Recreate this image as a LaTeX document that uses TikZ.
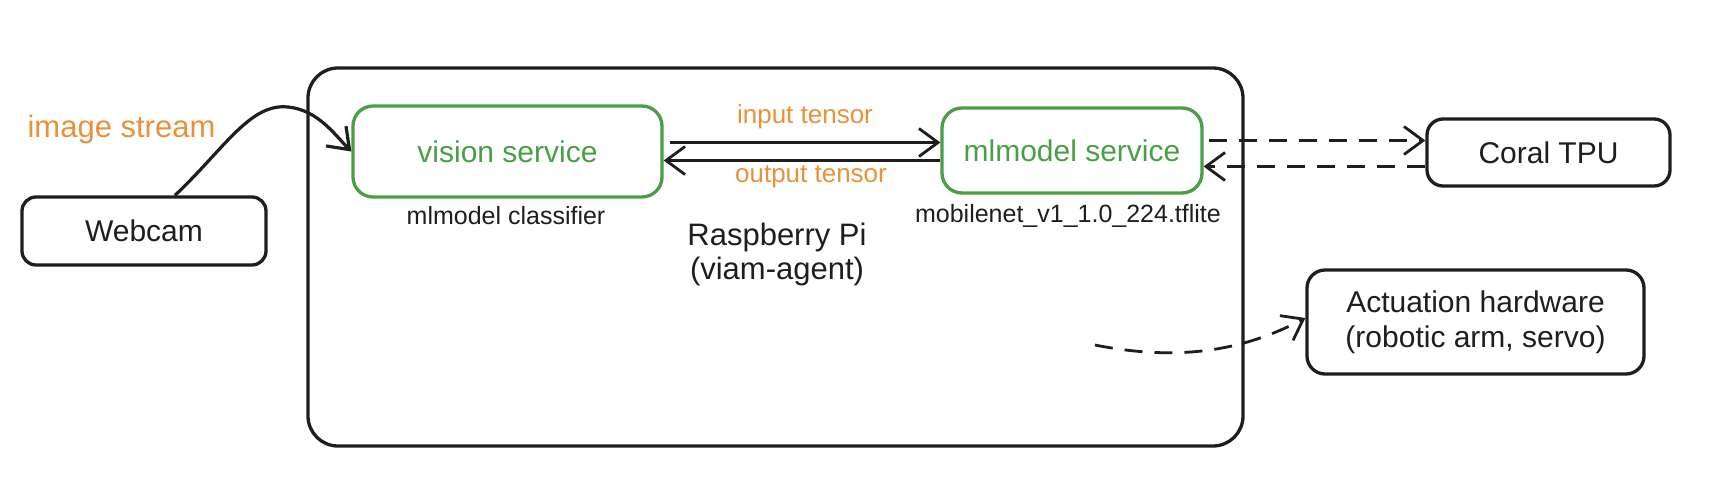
\documentclass[tikz,border=0pt]{standalone}
\usepackage{fontspec}
\setmainfont{Liberation Sans}
\usetikzlibrary{arrows.meta,calc}
\definecolor{ink}{HTML}{1E1E1E}
\definecolor{grn}{HTML}{4A9E45}
\definecolor{org}{HTML}{E8913A}
\begin{document}
\begin{tikzpicture}[x=1pt,y=-1pt,
  box/.style={draw=ink, line width=3.3pt, rounded corners=14pt, inner sep=0pt, font=\fontsize{30}{35}\selectfont, text=ink, align=center},
  gbox/.style={box, draw=grn, text=grn},
  bigtxt/.style={font=\fontsize{31}{34}\selectfont, align=center},
  smalltxt/.style={font=\fontsize{25}{28}\selectfont, text=ink},
  olab/.style={font=\fontsize{26}{28}\selectfont, text=org},
  arr/.style={draw=ink, line width=2.8pt, -{Straight Barb[length=19pt,width=28pt]}},
  dsh/.style={arr, dash pattern=on 18pt off 12pt}]
\useasboundingbox (0,0) rectangle (1714,488);
\node[box, minimum width=935pt, minimum height=378pt, rounded corners=30pt] (pi) at (775.5,257) {};
\node[box, minimum width=244pt, minimum height=68pt] (cam) at (144,231) {Webcam};
\node[gbox, minimum width=309pt, minimum height=91pt, rounded corners=20pt] (vis) at (507.5,151.5) {vision service};
\node[gbox, minimum width=260pt, minimum height=85pt, rounded corners=20pt] (ml) at (1072,150.5) {mlmodel service};
\node[box, minimum width=243pt, minimum height=67pt, rounded corners=16pt] (tpu) at (1548.5,152.5) {Coral TPU};
\node[box, minimum width=337pt, minimum height=104pt, rounded corners=18pt] (act) at (1475.5,322) {Actuation hardware\\(robotic arm, servo)};
\node[smalltxt] (cls) at (506,216) {mlmodel classifier};
\node[smalltxt] (tfl) at (1068,216) {mobilenet\_v1\_1.0\_224.tflite};
\node[bigtxt, text=ink] (rpi) at (777,254) {Raspberry Pi\\(viam-agent)};
\node[olab] (inlab) at (805,117) {input tensor};
\node[olab] (outlab) at (811,177) {output tensor};
\node[bigtxt, text=org] (img) at (121.5,129) {image stream};
\coordinate (ctl) at (1095,345);
\draw[arr, line width=3.2pt] ([xshift=31pt]cam.north) .. controls (225,148) and (250,103) .. (288,107) .. controls (318,110) and (335,135) .. (vis.west);
\draw[arr, shorten <=6pt] ([yshift=9pt]vis.east) -- ([yshift=9pt]vis.east -| ml.west);
\draw[arr] ([yshift=-10pt]ml.west) -- ([yshift=-10pt]ml.west -| vis.east);
\draw[dsh, shorten <=5pt] ([yshift=10pt]ml.east) -- ([yshift=10pt]ml.east -| tpu.west);
\draw[dsh] ([yshift=-14pt]tpu.west) -- ([yshift=-14pt]tpu.west -| ml.east);
\draw[dsh] (ctl) .. controls (1180,362) and (1245,350) .. ([yshift=4pt]act.west);
\end{tikzpicture}
\end{document}
